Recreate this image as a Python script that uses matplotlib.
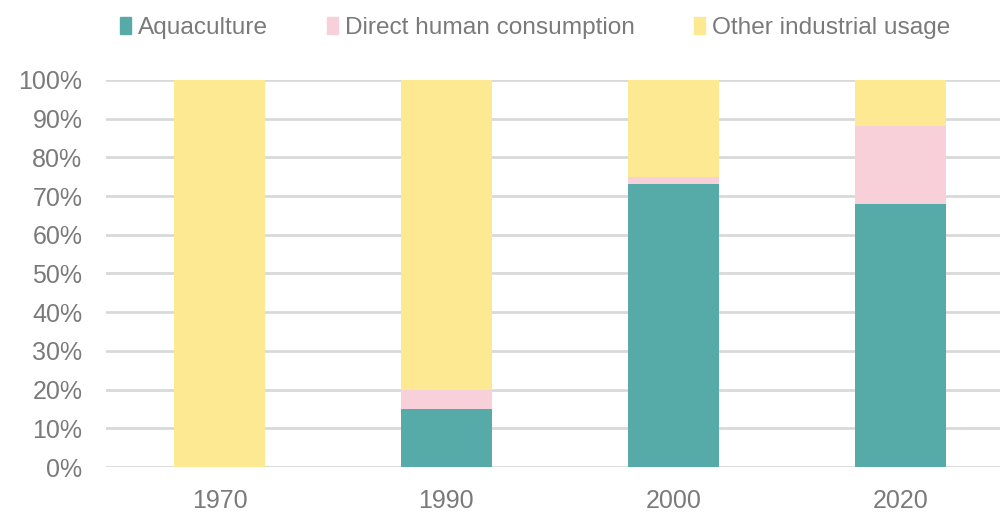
import numpy as np
import matplotlib.pyplot as plt
from matplotlib.patches import Patch
from matplotlib.ticker import PercentFormatter

plt.rcParams['font.family'] = ['Liberation Sans', 'DejaVu Sans']

years = ['1970', '1990', '2000', '2020']
aquaculture = [0, 15, 73, 68]
direct_human = [0, 5, 2, 20]
other_industrial = [100, 80, 25, 12]

series = [
    ('Aquaculture', aquaculture, '#56AAA8'),
    ('Direct human consumption', direct_human, '#F8D0DA'),
    ('Other industrial usage', other_industrial, '#FDE992'),
]
text_color = '#7A7A7A'

fig = plt.figure(figsize=(10, 5.15), dpi=100)
ax = fig.add_axes([0.106, 0.093, 0.894, 0.752])

x = np.arange(len(years))
bottom = np.zeros(len(years))
for name, vals, color in series:
    ax.bar(x, vals, width=0.4, bottom=bottom, color=color, zorder=2)
    bottom += np.array(vals)

ax.set_ylim(0, 100)
ax.set_xlim(-0.5, 3.44)
ax.set_yticks(np.arange(0, 101, 10))
ax.yaxis.set_major_formatter(PercentFormatter(decimals=0))
ax.set_xticks(x)
ax.set_xticklabels(years)
ax.grid(axis='y', color='#D9D9D9', linewidth=2, zorder=0)
ax.tick_params(length=0, labelsize=18, colors=text_color)
ax.tick_params(axis='y', pad=17)
ax.tick_params(axis='x', pad=16)
for s in ax.spines.values():
    s.set_visible(False)

handles = [Patch(color=c, label=n) for n, _, c in series]
fig.legend(handles=handles, loc='upper center', bbox_to_anchor=(0.535, 1.01),
           ncol=3, frameon=False, fontsize=17.6, labelcolor=text_color,
           handlelength=0.45, handleheight=0.7, handletextpad=0.3, columnspacing=2.4)

fig.savefig('out.png', dpi=100)
